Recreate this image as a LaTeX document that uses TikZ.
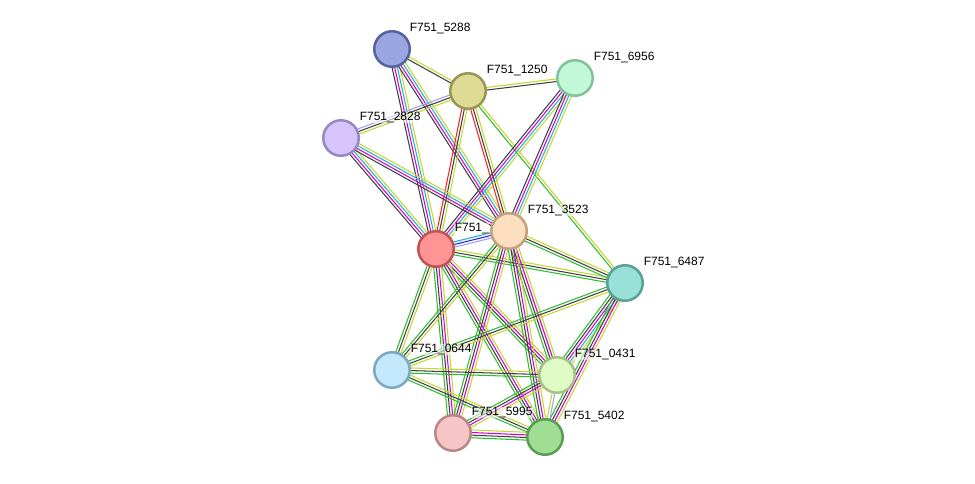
\documentclass[tikz,border=0pt]{standalone}
\usepackage{fontspec}
\setmainfont{Liberation Sans}
\usetikzlibrary{calc}
\pgfdeclarelayer{background}
\pgfsetlayers{background,main}
\definecolor{egreen}{HTML}{2DBE2D}
\definecolor{eblack}{HTML}{404040}
\definecolor{emag}{HTML}{D000D0}
\definecolor{ecyan}{HTML}{22B0D8}
\definecolor{eyel}{HTML}{C2D82E}
\definecolor{ered}{HTML}{FF2020}
\definecolor{eblue}{HTML}{2020FF}
\definecolor{elight}{HTML}{A0A0F0}
\definecolor{b5288}{HTML}{5563A0}\definecolor{f5288}{HTML}{99A6E0}
\definecolor{b1250}{HTML}{9A9550}\definecolor{f1250}{HTML}{DEDB96}
\definecolor{b6956}{HTML}{82C29C}\definecolor{f6956}{HTML}{C0F8D8}
\definecolor{b2828}{HTML}{9A86C6}\definecolor{f2828}{HTML}{D6C4FA}
\definecolor{bR}{HTML}{C05454}\definecolor{fR}{HTML}{FF9494}
\definecolor{b3523}{HTML}{C2A080}\definecolor{f3523}{HTML}{FDDFC0}
\definecolor{b6487}{HTML}{58A098}\definecolor{f6487}{HTML}{98E0D8}
\definecolor{b0644}{HTML}{7CA8C4}\definecolor{f0644}{HTML}{C4E8FC}
\definecolor{b0431}{HTML}{A6C08A}\definecolor{f0431}{HTML}{E0FCC6}
\definecolor{b5995}{HTML}{B88888}\definecolor{f5995}{HTML}{F6C6C6}
\definecolor{b5402}{HTML}{5C9C54}\definecolor{f5402}{HTML}{A0DE94}
\newcommand\sedge[3]{%
  \xdef\edgecnt{0}%
  \foreach \c in {#3}{\xdef\edgecnt{\the\numexpr\edgecnt+1\relax}}%
  \foreach \c [count=\i] in {#3}{%
    \pgfmathsetmacro\edgeoff{(\i-(\edgecnt+1)/2)*2.6}%
    \draw[line width=1.05pt,color=\c] ($(#1)!\edgeoff pt!90:(#2)$) -- ($(#2)!\edgeoff pt!-90:(#1)$);
  }}
\tikzset{
  prot/.style={circle,minimum size=35.5pt,inner sep=0pt,line width=2.5pt,draw=b#1,fill=f#1},
  plabel/.style={anchor=west,font=\fontsize{12pt}{14pt}\selectfont,inner sep=0.6pt,fill=white,fill opacity=0.55,text opacity=1}
}
\begin{document}
\begin{tikzpicture}[x=1pt,y=-1pt]
\path[use as bounding box] (0,0) rectangle (975,483);
% nodes with labels
\node[prot=5288] (n5288) at (392,49) {};
\node[plabel] (l5288) at (409,28.5) {F751\_5288};
\node[prot=1250] (n1250) at (468,91) {};
\node[plabel] (l1250) at (486,70.5) {F751\_1250};
\node[prot=6956] (n6956) at (575,78) {};
\node[plabel] (l6956) at (593,57.5) {F751\_6956};
\node[prot=2828] (n2828) at (341,138) {};
\node[plabel] (l2828) at (359,117.5) {F751\_2828};
\node[prot=R] (nR) at (436,249) {};
\node[plabel] (lR) at (454,228.5) {F751\_};
\node[prot=3523] (n3523) at (509,231) {};
\node[plabel] (l3523) at (527,210.5) {F751\_3523};
\node[prot=6487] (n6487) at (625,283) {};
\node[plabel] (l6487) at (643,262.5) {F751\_6487};
\node[prot=0644] (n0644) at (392,370) {};
\node[plabel] (l0644) at (410,349.5) {F751\_0644};
\node[prot=0431] (n0431) at (557,375) {};
\node[plabel] (l0431) at (574,354.5) {F751\_0431};
\node[prot=5995] (n5995) at (453,433) {};
\node[plabel] (l5995) at (471,412.5) {F751\_5995};
\node[prot=5402] (n5402) at (545,437) {};
\node[plabel] (l5402) at (563,416.5) {F751\_5402};
\begin{pgfonlayer}{background}
\fill[white] (0,0) rectangle (975,483);
\sedge{n5288}{n1250}{eblack,eyel}
\sedge{n5288}{nR}{eblack,emag,ecyan,eyel}
\sedge{n5288}{n3523}{eblack,emag,ecyan,eyel}
\sedge{n1250}{n6956}{eblack,eyel}
\sedge{n1250}{n2828}{elight,eblack,eyel}
\sedge{n1250}{nR}{ered,eblack,eyel}
\sedge{n1250}{n3523}{ered,eblack,eyel}
\sedge{n1250}{n6487}{egreen,eyel}
\sedge{n6956}{nR}{eblack,emag,ecyan,eyel}
\sedge{n6956}{n3523}{eblack,emag,ecyan,eyel}
\sedge{n2828}{nR}{eblack,emag,ecyan,eyel}
\sedge{n2828}{n3523}{eblack,emag,ecyan,eyel}
\sedge{nR}{n3523}{elight,eblue,ecyan}
\sedge{nR}{n6487}{egreen,eblack,eyel}
\sedge{n3523}{n6487}{egreen,eblack,eyel}
\sedge{nR}{n0644}{egreen,eblack,eyel}
\sedge{nR}{n0431}{egreen,eblack,emag,eyel}
\sedge{nR}{n5995}{egreen,eblack,emag,eyel}
\sedge{nR}{n5402}{egreen,eblack,emag,eyel}
\sedge{n3523}{n0644}{egreen,eblack,eyel}
\sedge{n3523}{n0431}{egreen,eblack,emag,eyel}
\sedge{n3523}{n5995}{egreen,eblack,emag,eyel}
\sedge{n3523}{n5402}{egreen,eblack,emag,eyel}
\sedge{n6487}{n0644}{egreen,eblack,eyel}
\sedge{n6487}{n0431}{egreen,eblack,emag,ecyan,eyel}
\sedge{n6487}{n5402}{egreen,eblack,emag,eyel}
\sedge{n0644}{n0431}{egreen,eblack,eyel}
\sedge{n0644}{n5402}{egreen,eblack,eyel}
\sedge{n0431}{n5995}{egreen,eblack,emag,eyel}
\sedge{n0431}{n5402}{eyel,elight}
\sedge{n5995}{n5402}{egreen,eblack,emag,eyel}
\end{pgfonlayer}
\end{tikzpicture}
\end{document}
